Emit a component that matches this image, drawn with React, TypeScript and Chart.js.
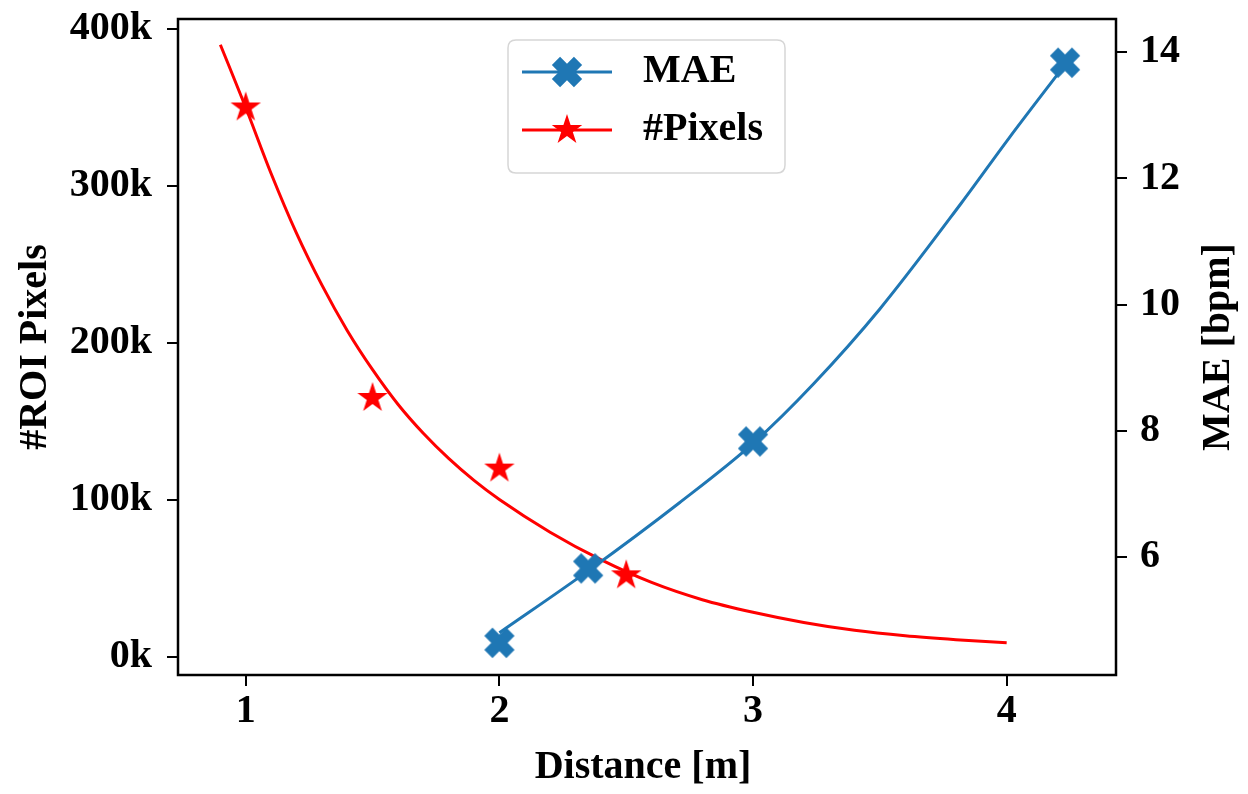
import React, { useEffect, useRef } from 'react';
import { Chart, registerables } from 'chart.js';

Chart.register(...registerables);

// Measured markers
const maeDistance = [2.0, 2.35, 3.0, 4.23];
const maeValues = [4.64, 5.82, 7.83, 13.83];
const pixelDistance = [1.0, 1.5, 2.0, 2.5];
const pixelValues = [350000, 165000, 120000, 52000];

// Fitted curves
const maeFitDistance = [2.0, 2.35, 2.71, 3.0, 3.24, 3.5, 3.82, 4.01, 4.23];
const maeFitValues = [4.80, 5.78, 6.86, 7.80, 8.75, 9.93, 11.60, 12.64, 13.80];
const pixelFitDistance = [0.9, 1.0, 1.1, 1.2, 1.3, 1.4, 1.5, 1.6, 1.7, 1.8, 1.9, 2.0, 2.2, 2.4, 2.6, 2.8, 3.0, 3.2, 3.4, 3.6, 3.8, 4.0];
const pixelFitValues = [390000, 350000, 308000, 270000, 237000, 208000, 183000, 161000, 142500, 126500, 112500, 100300, 79500, 62000, 47500, 36500, 28500, 22000, 17000, 13500, 11000, 9000];

// Ticks
const xTicks = [1, 2, 3, 4];
const leftTicks = [0, 100000, 200000, 300000, 400000];
const rightTicks = [6, 8, 10, 12, 14];

const BLUE = '#1f77b4';
const RED = '#ff0000';
const FONT = '"Liberation Serif", "Times New Roman", Times, serif';

function makeXMarker(color: string): HTMLCanvasElement {
  const c = document.createElement('canvas');
  c.width = 34;
  c.height = 34;
  const ctx = c.getContext('2d')!;
  ctx.translate(17, 17);
  ctx.rotate(Math.PI / 4);
  const s = 15.6;
  const w = 5.8;
  ctx.beginPath();
  ctx.moveTo(-w, -s);
  ctx.lineTo(w, -s);
  ctx.lineTo(w, -w);
  ctx.lineTo(s, -w);
  ctx.lineTo(s, w);
  ctx.lineTo(w, w);
  ctx.lineTo(w, s);
  ctx.lineTo(-w, s);
  ctx.lineTo(-w, w);
  ctx.lineTo(-s, w);
  ctx.lineTo(-s, -w);
  ctx.lineTo(-w, -w);
  ctx.closePath();
  ctx.fillStyle = color;
  ctx.fill();
  return c;
}

function makeStarMarker(color: string): HTMLCanvasElement {
  const c = document.createElement('canvas');
  c.width = 36;
  c.height = 36;
  const ctx = c.getContext('2d')!;
  ctx.translate(18, 18);
  const R = 16;
  const r = R * 0.381;
  ctx.beginPath();
  for (let i = 0; i < 10; i++) {
    const rad = i % 2 === 0 ? R : r;
    const a = -Math.PI / 2 + (i * Math.PI) / 5;
    const px = rad * Math.cos(a);
    const py = rad * Math.sin(a);
    if (i === 0) ctx.moveTo(px, py);
    else ctx.lineTo(px, py);
  }
  ctx.closePath();
  ctx.fillStyle = color;
  ctx.fill();
  return c;
}

export default function App() {
  const canvasRef = useRef<HTMLCanvasElement | null>(null);

  useEffect(() => {
    if (!canvasRef.current) return;
    const xMarker = makeXMarker(BLUE);
    const starMarker = makeStarMarker(RED);

    const framePlugin = {
      id: 'frameAndLegend',
      afterDraw(chart: any) {
        const { ctx, chartArea } = chart;
        ctx.save();
        ctx.strokeStyle = '#000';
        ctx.lineWidth = 2.5;
        ctx.strokeRect(chartArea.left, chartArea.top, chartArea.right - chartArea.left, chartArea.bottom - chartArea.top);

        // axis titles
        const midY = (chartArea.top + chartArea.bottom) / 2;
        const midX = (chartArea.left + chartArea.right) / 2;
        ctx.fillStyle = '#000';
        ctx.font = `bold 40px ${FONT}`;
        ctx.textAlign = 'center';
        ctx.textBaseline = 'middle';
        ctx.fillText('Distance [m]', midX - 4, 768);
        ctx.save();
        ctx.translate(36, midY);
        ctx.rotate(-Math.PI / 2);
        ctx.fillText('#ROI Pixels', 0, 0);
        ctx.restore();
        ctx.save();
        ctx.translate(1219, midY);
        ctx.rotate(-Math.PI / 2);
        ctx.fillText('MAE [bpm]', 0, 0);
        ctx.restore();

        // legend
        const lx = 508, ly = 40, lw = 277, lh = 133, rr = 8;
        ctx.beginPath();
        ctx.moveTo(lx + rr, ly);
        ctx.lineTo(lx + lw - rr, ly);
        ctx.quadraticCurveTo(lx + lw, ly, lx + lw, ly + rr);
        ctx.lineTo(lx + lw, ly + lh - rr);
        ctx.quadraticCurveTo(lx + lw, ly + lh, lx + lw - rr, ly + lh);
        ctx.lineTo(lx + rr, ly + lh);
        ctx.quadraticCurveTo(lx, ly + lh, lx, ly + lh - rr);
        ctx.lineTo(lx, ly + rr);
        ctx.quadraticCurveTo(lx, ly, lx + rr, ly);
        ctx.closePath();
        ctx.fillStyle = 'rgba(255,255,255,0.85)';
        ctx.fill();
        ctx.strokeStyle = '#d6d6d6';
        ctx.lineWidth = 1.5;
        ctx.stroke();

        const items = [
          { label: 'MAE', color: BLUE, marker: xMarker, y: 72 },
          { label: '#Pixels', color: RED, marker: starMarker, y: 130 },
        ];
        items.forEach((it) => {
          ctx.beginPath();
          ctx.strokeStyle = it.color;
          ctx.lineWidth = 3;
          ctx.moveTo(522, it.y);
          ctx.lineTo(612, it.y);
          ctx.stroke();
          ctx.drawImage(it.marker, 567 - it.marker.width / 2, it.y - it.marker.height / 2);
          ctx.fillStyle = '#000';
          ctx.font = `bold 40px ${FONT}`;
          ctx.textAlign = 'left';
          ctx.textBaseline = 'middle';
          ctx.fillText(it.label, 643, it.y);
        });
        ctx.restore();
      },
    };

    const tickFont = { family: FONT, size: 40, weight: 'bold' as const };

    const chart = new Chart(canvasRef.current, {
      type: 'line',
      data: {
        datasets: [
          {
            label: 'MAE',
            data: maeDistance.map((x, i) => ({ x, y: maeValues[i] })),
            yAxisID: 'y1',
            showLine: false,
            pointStyle: xMarker as any,
            pointRadius: 16,
            borderColor: BLUE,
            backgroundColor: BLUE,
            order: 0,
          },
          {
            label: 'MAE fit',
            data: maeFitDistance.map((x, i) => ({ x, y: maeFitValues[i] })),
            yAxisID: 'y1',
            borderColor: BLUE,
            borderWidth: 3,
            pointRadius: 0,
            cubicInterpolationMode: 'monotone',
            order: 1,
          },
          {
            label: '#Pixels',
            data: pixelDistance.map((x, i) => ({ x, y: pixelValues[i] })),
            yAxisID: 'y',
            showLine: false,
            pointStyle: starMarker as any,
            pointRadius: 16,
            borderColor: RED,
            backgroundColor: RED,
            order: 2,
          },
          {
            label: '#Pixels fit',
            data: pixelFitDistance.map((x, i) => ({ x, y: pixelFitValues[i] })),
            yAxisID: 'y',
            borderColor: RED,
            borderWidth: 3,
            pointRadius: 0,
            cubicInterpolationMode: 'monotone',
            order: 3,
          },
        ],
      },
      options: {
        animation: false,
        responsive: true,
        maintainAspectRatio: false,
        devicePixelRatio: 1,
        layout: { padding: { top: 19, left: 0, right: 0, bottom: 0 } },
        plugins: { legend: { display: false }, tooltip: { enabled: false } },
        scales: {
          x: {
            type: 'linear',
            min: 0.733,
            max: 4.431,
            afterBuildTicks: (scale: any) => {
              scale.ticks = xTicks.map((v) => ({ value: v }));
            },
            afterFit: (scale: any) => {
              scale.height = 119;
              scale.paddingLeft = 0;
              scale.paddingRight = 0;
            },
            border: { display: false },
            grid: { drawOnChartArea: false, drawTicks: true, tickLength: 11, color: '#000', lineWidth: 2 },
            ticks: { color: '#000', font: tickFont, padding: 2, maxRotation: 0, callback: (v: any) => String(v) },
          },
          y: {
            type: 'linear',
            position: 'left',
            min: -11465,
            max: 406369,
            afterBuildTicks: (scale: any) => {
              scale.ticks = leftTicks.map((v) => ({ value: v }));
            },
            afterFit: (scale: any) => {
              scale.width = 178;
              scale.paddingTop = 0;
              scale.paddingBottom = 0;
            },
            border: { display: false },
            grid: { drawOnChartArea: false, drawTicks: true, tickLength: 11, color: '#000', lineWidth: 2 },
            ticks: { color: '#000', font: tickFont, padding: 15, callback: (v: any) => `${Math.round(Number(v) / 1000)}k` },
          },
          y1: {
            type: 'linear',
            position: 'right',
            min: 4.131,
            max: 14.523,
            afterBuildTicks: (scale: any) => {
              scale.ticks = rightTicks.map((v) => ({ value: v }));
            },
            afterFit: (scale: any) => {
              scale.width = 132;
              scale.paddingTop = 0;
              scale.paddingBottom = 0;
            },
            border: { display: false },
            grid: { drawOnChartArea: false, drawTicks: true, tickLength: 11, color: '#000', lineWidth: 2 },
            ticks: { color: '#000', font: tickFont, padding: 13, callback: (v: any) => String(v) },
          },
        },
      } as any,
      plugins: [framePlugin],
    });

    return () => {
      chart.destroy();
    };
  }, []);

  return (
    <div style={{ position: 'fixed', left: 0, top: 0, width: 1248, height: 794, background: '#fff' }}>
      <canvas ref={canvasRef} />
    </div>
  );
}
